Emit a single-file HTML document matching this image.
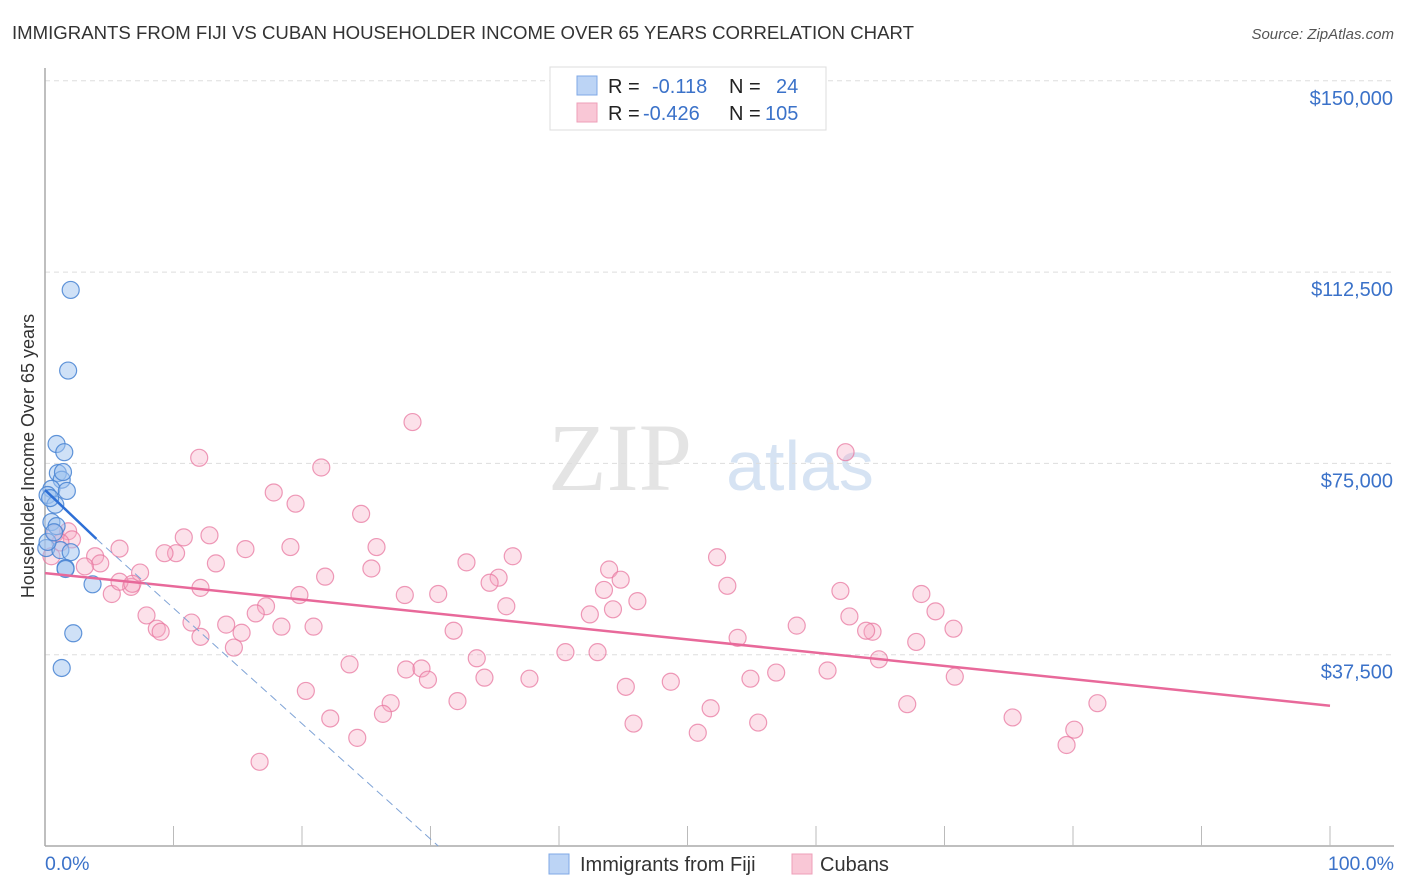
<!DOCTYPE html>
<html><head><meta charset="utf-8"><style>
body{margin:0;background:#fff;font-family:"Liberation Sans",sans-serif;}
svg{display:block}
</style></head><body>
<svg id="chart" width="1406" height="892">
<text x="12" y="39" font-size="18.6" fill="#333">IMMIGRANTS FROM FIJI VS CUBAN HOUSEHOLDER INCOME OVER 65 YEARS CORRELATION CHART</text>
<text x="1394" y="39" font-size="15" fill="#555" font-style="italic" text-anchor="end">Source: ZipAtlas.com</text>
<text x="620" y="490" font-size="96" fill="#e4e4e4" font-family="Liberation Serif,serif" text-anchor="middle">ZIP</text>
<text x="800" y="490" font-size="70" fill="#d6e3f3" text-anchor="middle">atlas</text>
<g id="grid"></g>
<g id="axes"></g>
<g id="pts"></g>
<g id="lines"></g>
<text transform="translate(34,456) rotate(-90)" font-size="18" fill="#333" text-anchor="middle">Householder Income Over 65 years</text>
<text x="45" y="870" font-size="19.5" fill="#3b72c9">0.0%</text>
<text x="1394" y="870" font-size="19.5" fill="#3b72c9" text-anchor="end">100.0%</text>
<g>
<rect x="550" y="67" width="276" height="63" fill="#fff" stroke="#ddd"/>
<rect x="577" y="76" width="20" height="19" fill="#bcd4f5" stroke="#7fa8e6"/>
<rect x="577" y="103" width="20" height="19" fill="#f9c7d6" stroke="#ee9fb8"/>
<text x="608" y="93" font-size="20" fill="#222">R = </text>
<text x="652" y="93" font-size="20" fill="#3b72c9">-0.118</text>
<text x="729" y="93" font-size="20" fill="#222">N = </text>
<text x="776" y="93" font-size="20" fill="#3b72c9">24</text>
<text x="608" y="120" font-size="20" fill="#222">R = </text>
<text x="643" y="120" font-size="20" fill="#3b72c9">-0.426</text>
<text x="729" y="120" font-size="20" fill="#222">N = </text>
<text x="765" y="120" font-size="20" fill="#3b72c9">105</text>
</g>
<g>
<rect x="549" y="854" width="20" height="20" fill="#bcd4f5" stroke="#7fa8e6"/>
<text x="580" y="871" font-size="20" fill="#333">Immigrants from Fiji</text>
<rect x="792" y="854" width="20" height="20" fill="#f9c7d6" stroke="#ee9fb8"/>
<text x="820" y="871" font-size="20" fill="#333">Cubans</text>
</g>
</svg>
<script>
const yTicks=[37500,75000,112500,150000];
const yTickLabels=["$37,500","$75,000","$112,500","$150,000"];
const fijiX=[2.0,1.8,0.9,1.5,1.0,1.3,0.5,1.7,0.2,0.8,0.5,0.9,0.1,1.2,2.0,1.6,1.6,3.7,2.2,1.3,0.4,0.2,0.7,1.4];
const fijiY=[109000,93200,78800,77200,73100,71800,70000,69600,68800,66900,63500,62700,58400,58000,57600,54500,54300,51300,41700,34900,68200,59600,61500,73300];
const cubX=[28.6,62.3,12.0,21.5,17.8,19.5,24.6,12.8,10.8,5.8,15.6,19.1,25.8,10.2,9.3,36.4,32.8,52.3,13.3,7.4,25.4,21.8,43.9,44.8,35.3,34.6,53.1,61.9,68.2,43.5,6.7,5.2,28.0,30.6,19.8,46.1,17.2,16.4,35.9,44.2,69.3,42.4,7.9,62.6,11.4,8.7,14.1,58.5,64.4,70.7,18.4,20.9,63.9,31.8,9.0,12.1,15.3,53.9,67.8,14.7,40.5,43.0,64.9,33.6,23.7,28.1,29.3,56.9,60.9,29.8,34.2,37.7,48.7,54.9,70.8,45.2,20.3,26.9,32.1,51.8,67.1,81.9,26.3,22.2,75.3,45.8,55.5,80.1,24.3,50.8,79.5,16.7,0.8,1.8,2.1,1.2,3.9,4.3,3.1,0.5,5.8,6.8,12.1];
const cubY=[83100,77200,76100,74200,69300,67100,65100,60900,60500,58300,58200,58600,58600,57400,57400,56800,55600,56600,55400,53600,54400,52800,54200,52200,52600,51600,51000,50000,49400,50200,50800,49400,49200,49400,49200,48000,47000,45600,47000,46400,46000,45400,45200,45000,43800,42600,43400,43200,42000,42600,43000,43000,42200,42200,42000,41000,41800,40800,40000,38900,38000,38000,36600,36800,35600,34600,34800,34000,34400,32600,33000,32800,32200,32800,33200,31200,30400,28000,28400,27000,27800,28000,25900,25000,25200,24000,24200,22800,21200,22200,19800,16500,61300,61700,60100,59500,56800,55400,54800,56800,51800,51400,50600];
const cubTrend=[53500,27500];
const fijiTrend=[69800,60200,0];
const fijiTrendX=[0,4.0,30.6];
const X=p=>45+p/100*1285, Y=v=>846-v/37500*191.3;
const NS="http://www.w3.org/2000/svg";
function mk(t,a,parent){const e=document.createElementNS(NS,t);for(const k in a)e.setAttribute(k,a[k]);document.getElementById(parent).appendChild(e);return e;}
yTicks.forEach((v,i)=>{
 const l=mk('line',{x1:45,x2:1394,y1:Y(v),y2:Y(v),stroke:'#ddd','stroke-dasharray':'5,4'},'grid');
 
 
 const t=mk('text',{x:1393,y:Y(v)+24,'font-size':20,fill:'#3b72c9','text-anchor':'end'},'grid');
 t.textContent=yTickLabels[i];
 
 
});
const ax=mk('line',{x1:45,x2:45,y1:68,y2:846,stroke:'#aaa','stroke-width':1.5},'axes');


const bx=mk('line',{x1:45,x2:1394,y1:846,y2:846,stroke:'#aaa','stroke-width':1.5},'axes');


for(let i=1;i<=10;i++){const tk=mk('line',{x1:X(i*10),x2:X(i*10),y1:826,y2:846,stroke:'#bbb'},'axes');
 
 }
cubX.forEach((x,i)=>{const c=mk('circle',{cx:X(x),cy:Y(cubY[i]),r:8.5,fill:'rgba(246,170,196,0.35)',stroke:'rgba(232,120,160,0.75)','stroke-width':1.2},'pts');
 
 });
fijiX.forEach((x,i)=>{const c=mk('circle',{cx:X(x),cy:Y(fijiY[i]),r:8.5,fill:'rgba(160,195,240,0.5)',stroke:'rgba(70,130,210,0.85)','stroke-width':1.2},'pts');
 
 });
const ct=mk('line',{x1:X(0),y1:Y(cubTrend[0]),x2:X(100),y2:Y(cubTrend[1]),stroke:'#e8699a','stroke-width':2.5},'lines');


const fd=mk('line',{x1:X(fijiTrendX[1]),y1:Y(fijiTrend[1]),x2:X(fijiTrendX[2]),y2:Y(fijiTrend[2]),stroke:'#7fa3d6','stroke-width':1,'stroke-dasharray':'8,5'},'lines');


const ft=mk('line',{x1:X(fijiTrendX[0]),y1:Y(fijiTrend[0]),x2:X(fijiTrendX[1]),y2:Y(fijiTrend[1]),stroke:'#2d6fd6','stroke-width':2.5},'lines');


</script>
</body></html>
